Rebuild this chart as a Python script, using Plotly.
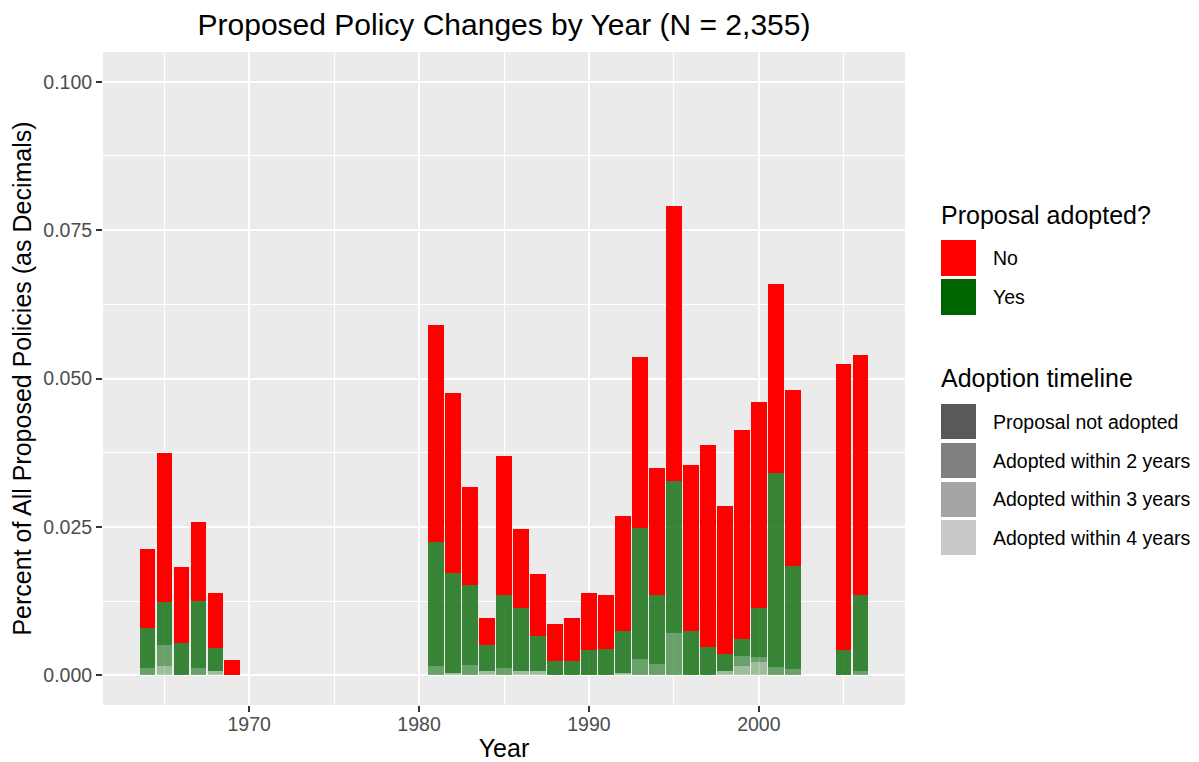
import plotly.graph_objects as go

# ---- data ----
years = [1964, 1965, 1966, 1967, 1968, 1969,
         1981, 1982, 1983, 1984, 1985, 1986, 1987, 1988, 1989, 1990, 1991,
         1992, 1993, 1994, 1995, 1996, 1997, 1998, 1999, 2000, 2001, 2002,
         2005, 2006]

# "No" (proposal not adopted)
not_adopted = [0.0132, 0.0251, 0.0129, 0.0132, 0.0093, 0.0025,
               0.0365, 0.0302, 0.0166, 0.0046, 0.0235, 0.0132, 0.0103, 0.0062, 0.0073, 0.0097, 0.0090,
               0.0194, 0.0288, 0.0215, 0.0463, 0.0279, 0.0340, 0.0250, 0.0352, 0.0347, 0.0318, 0.0296,
               0.0482, 0.0405]
# "Yes" split by adoption timeline
within_2 = [0.0068, 0.0072, 0.0054, 0.0114, 0.0038, 0.0000,
            0.0209, 0.0169, 0.0135, 0.0043, 0.0122, 0.0106, 0.0059, 0.0024, 0.0024, 0.0042, 0.0045,
            0.0071, 0.0220, 0.0116, 0.0257, 0.0075, 0.0048, 0.0029, 0.0029, 0.0082, 0.0327, 0.0173,
            0.0042, 0.0128]
within_3 = [0.0012, 0.0035, 0.0000, 0.0012, 0.0000, 0.0000,
            0.0016, 0.0000, 0.0017, 0.0000, 0.0013, 0.0000, 0.0000, 0.0000, 0.0000, 0.0000, 0.0000,
            0.0000, 0.0028, 0.0019, 0.0071, 0.0000, 0.0000, 0.0000, 0.0017, 0.0008, 0.0014, 0.0011,
            0.0000, 0.0007]
within_4 = [0.0000, 0.0016, 0.0000, 0.0000, 0.0008, 0.0000,
            0.0000, 0.0004, 0.0000, 0.0008, 0.0000, 0.0008, 0.0008, 0.0000, 0.0000, 0.0000, 0.0000,
            0.0004, 0.0000, 0.0000, 0.0000, 0.0000, 0.0000, 0.0007, 0.0015, 0.0023, 0.0000, 0.0000,
            0.0000, 0.0000]

y_ticks = [0.0, 0.025, 0.05, 0.075, 0.1]
y_tick_labels = ["0.000", "0.025", "0.050", "0.075", "0.100"]
x_ticks = [1970, 1980, 1990, 2000]

fill_title = "Proposal adopted?"
fill_labels = ["No", "Yes"]
alpha_title = "Adoption timeline"
alpha_labels = ["Proposal not adopted", "Adopted within 2 years",
                "Adopted within 3 years", "Adopted within 4 years"]

# ---- styles ----
FONT = "Liberation Sans, Arial, sans-serif"
RED = "#FF0000"
GREEN = "#006400"
A2, A3, A4 = 0.77, 0.55, 0.33

def rgba_green(a):
    return f"rgba(0,100,0,{a})"

fig = go.Figure()
for vals, color, name in [
    (within_4, rgba_green(A4), alpha_labels[3]),
    (within_3, rgba_green(A3), alpha_labels[2]),
    (within_2, rgba_green(A2), alpha_labels[1]),
    (not_adopted, RED, "No"),
]:
    fig.add_trace(go.Bar(x=years, y=vals, width=0.9, name=name,
                         marker=dict(color=color, line=dict(width=0)),
                         showlegend=False))

# page offset (html body margin) and panel geometry in screen pixels
OFF = 8
W_FIG, H_FIG = 1199 - OFF, 762 - OFF
L, R, T, B = 103, 905, 52, 705
PW, PH = R - L, B - T

def px(x):
    return (x - L) / PW

def py(y):
    return (B - y) / PH

shapes = []
annotations = []

# manual ggplot-style legend
key_x0, key_x1 = 941, 976
label_x = 991
TITLE_SIZE = 25
LABEL_SIZE = 19.5

annotations.append(dict(text=fill_title, x=px(939), y=py(215), xref="paper", yref="paper",
                        xanchor="left", yanchor="middle", showarrow=False,
                        font=dict(family=FONT, size=TITLE_SIZE, color="black")))
fill_keys = [(240, 276, RED), (279, 315, GREEN)]
for (y0, y1, c), lab in zip(fill_keys, fill_labels):
    shapes.append(dict(type="rect", xref="paper", yref="paper",
                       x0=px(key_x0), x1=px(key_x1), y0=py(y1), y1=py(y0),
                       fillcolor=c, line=dict(width=0)))
    annotations.append(dict(text=lab, x=px(label_x), y=py((y0 + y1) / 2), xref="paper", yref="paper",
                            xanchor="left", yanchor="middle", showarrow=False,
                            font=dict(family=FONT, size=LABEL_SIZE, color="black")))

annotations.append(dict(text=alpha_title, x=px(939), y=py(378), xref="paper", yref="paper",
                        xanchor="left", yanchor="middle", showarrow=False,
                        font=dict(family=FONT, size=TITLE_SIZE, color="black")))
alpha_keys = [(404, 439, "#595959"), (443, 478, "#808080"), (482, 517, "#a4a4a4"), (520, 555, "#c9c9c9")]
for (y0, y1, c), lab in zip(alpha_keys, alpha_labels):
    shapes.append(dict(type="rect", xref="paper", yref="paper",
                       x0=px(key_x0), x1=px(key_x1), y0=py(y1), y1=py(y0),
                       fillcolor=c, line=dict(width=0)))
    annotations.append(dict(text=lab, x=px(label_x), y=py((y0 + y1) / 2), xref="paper", yref="paper",
                            xanchor="left", yanchor="middle", showarrow=False,
                            font=dict(family=FONT, size=LABEL_SIZE, color="black")))

fig.update_layout(
    width=W_FIG, height=H_FIG, autosize=False,
    margin=dict(l=L - OFF, r=(1199 - OFF) - (R - OFF), t=T - OFF, b=(762 - OFF) - (B - OFF), pad=0),
    paper_bgcolor="white", plot_bgcolor="#EBEBEB",
    barmode="stack", bargap=0,
    font=dict(family=FONT, color="black"),
    title=dict(text="Proposed Policy Changes by Year (N = 2,355)",
               x=px((L + R) / 2), xref="paper", xanchor="center",
               y=1 - (24 - OFF) / H_FIG, yref="container", yanchor="middle",
               font=dict(family=FONT, size=30, color="black")),
    xaxis=dict(range=[1961.4, 2008.6], tickmode="array", tickvals=x_ticks,
               ticktext=[str(v) for v in x_ticks], automargin=False,
               showgrid=True, gridcolor="white", gridwidth=2,
               minor=dict(dtick=5, tick0=1965, showgrid=True, gridcolor="white", gridwidth=1),
               zeroline=False, showline=False,
               ticks="outside", ticklen=6, tickwidth=1.5, tickcolor="#333333",
               ticklabelstandoff=-4,
               tickfont=dict(family=FONT, size=19.5, color="#4D4D4D"),
               title=dict(text="Year", font=dict(family=FONT, size=25, color="black"), standoff=6)),
    yaxis=dict(range=[-0.005, 0.105], tickmode="array", tickvals=y_ticks, ticktext=y_tick_labels,
               automargin=False,
               showgrid=True, gridcolor="white", gridwidth=2,
               minor=dict(dtick=0.0125, tick0=0, showgrid=True, gridcolor="white", gridwidth=1),
               zeroline=False, showline=False,
               ticks="outside", ticklen=6, tickwidth=1.5, tickcolor="#333333",
               tickfont=dict(family=FONT, size=19.5, color="#4D4D4D"),
               title=dict(text="Percent of All Proposed Policies (as Decimals)",
                          font=dict(family=FONT, size=25, color="black"), standoff=8)),
    shapes=shapes,
    annotations=annotations,
)

fig.write_html("out.html")
